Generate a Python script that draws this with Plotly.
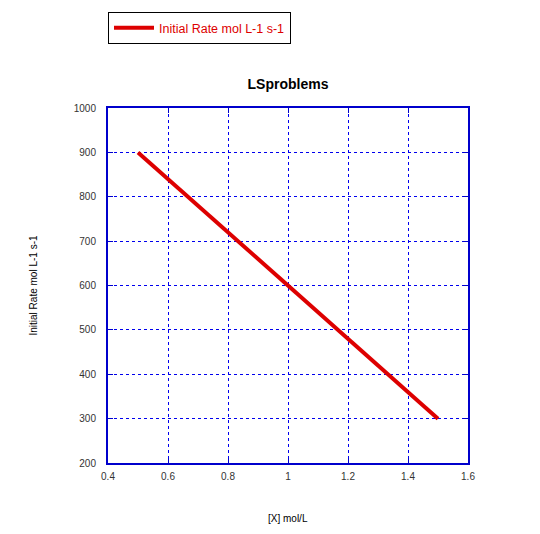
import plotly.graph_objects as go

conc = [0.5, 1.0, 1.5]
rate = [900, 600, 300]
series_name = "Initial Rate mol L-1 s-1"
x_ticks = [0.4, 0.6, 0.8, 1.0, 1.2, 1.4, 1.6]
x_tick_text = ["0.4", "0.6", "0.8", "1", "1.2", "1.4", "1.6"]
y_ticks = [200, 300, 400, 500, 600, 700, 800, 900, 1000]

FONT = "Liberation Sans, Arial, sans-serif"
W, H = 532, 526
L, T, PW, PH = 100, 100, 360, 355

fig = go.Figure()
fig.add_trace(go.Scatter(x=conc, y=rate, mode="lines", name=series_name,
                         line=dict(color="#dd0000", width=4), showlegend=True))

axis_common = dict(showline=True, linecolor="#0000cc", linewidth=2, mirror="ticks",
                   ticks="inside", ticklen=5, tickcolor="#0000cc", tickwidth=1,
                   showgrid=True, gridcolor="#0000ee", griddash="dot", gridwidth=1,
                   zeroline=False, tickfont=dict(family=FONT, size=10, color="#333333"))

fig.update_xaxes(range=[0.4, 1.6], tickvals=x_ticks, ticktext=x_tick_text,
                 ticklabelstandoff=3, **axis_common)
fig.update_yaxes(range=[200, 1000], tickvals=y_ticks, ticklabelstandoff=8, **axis_common)

fig.update_layout(
    width=W, height=H,
    margin=dict(l=L, r=W - L - PW, t=T, b=H - T - PH, autoexpand=False),
    plot_bgcolor="white", paper_bgcolor="white",
    font=dict(family=FONT),
    title=dict(text="<b>LSproblems</b>", x=0.5, xref="paper", xanchor="center",
               y=1 - (84 - 8) / H, yref="container", yanchor="middle",
               font=dict(family=FONT, size=14, color="black")),
    legend=dict(x=0, y=1 + (108 - 12) / PH, xanchor="left", yanchor="top",
                bordercolor="black", borderwidth=1, bgcolor="white",
                font=dict(family=FONT, size=12.5, color="#dd0000"),
                itemwidth=40, tracegroupgap=0),
    annotations=[
        dict(text="[X] mol/L", x=0.5, xref="paper", y=-(518 - 463) / PH, yref="paper",
             xanchor="center", yanchor="middle", showarrow=False,
             font=dict(family=FONT, size=10, color="black")),
        dict(text=series_name, x=-(108 - 33) / PW, xref="paper", y=0.5, yref="paper",
             xanchor="center", yanchor="middle", textangle=-90, showarrow=False,
             font=dict(family=FONT, size=10, color="black")),
    ],
)

fig.write_html("out.html")
